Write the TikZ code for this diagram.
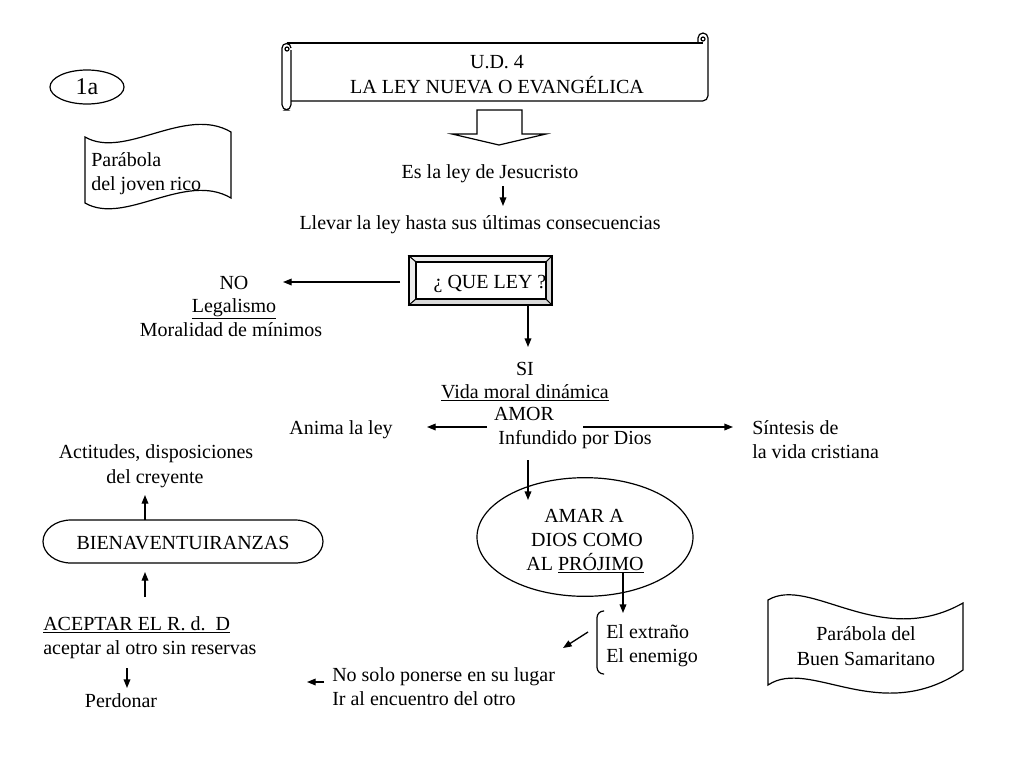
\documentclass[tikz,border=0pt]{standalone}
\usepackage{fontspec}
\setmainfont{Liberation Serif}
\usetikzlibrary{arrows.meta,shapes.geometric}
\begin{document}
\begin{tikzpicture}[x=0.75pt,y=-0.75pt,
  txt/.style={inner sep=0pt,anchor=base,font=\fontsize{15}{20}\selectfont},
  ltxt/.style={txt,anchor=base west},
  arr/.style={line width=1pt,-{Triangle[length=6.5pt,width=5pt]}},
  shp/.style={line width=0.9pt},
  bevA/.style={fill=gray!15,draw,line width=0.7pt},
  bevB/.style={fill=gray!30,draw,line width=0.7pt}]
\fill[white] (0,0) rectangle (1024,768);
\useasboundingbox (0,0) rectangle (1024,768);

% ---- title scroll
\draw[shp] (287,43) -- (703,43);
\draw[shp,rounded corners=4] (291,101) -- (708,101) -- (708,38);
\draw[shp,rounded corners=4] (291,50) -- (291,110) -- (282,110) -- (282,48);
\draw[shp] (282,48) arc[start angle=180,end angle=360,radius=4.5];
\draw[shp] (287,49) circle[radius=2];
\draw[shp] (708,38) arc[start angle=0,end angle=-180,radius=5] -- (698,43);
\draw[shp] (703,39) circle[radius=2];
\node[txt] (ud) at (497,68) {U.D. 4};
\node[txt] (ley) at (497,93) {LA LEY NUEVA O EVANGÉLICA};

% ---- 1a
\node[draw,shp,ellipse,inner sep=0pt,minimum width=55.5pt,minimum height=25.5pt,
      font=\fontsize{18}{22}\selectfont] (n1a) at (87,87) {1a};

% ---- joven rico wave
\draw[shp] (85,137) .. controls (125,160) and (185,105) .. (231,132) -- (231,198)
   .. controls (185,171) and (125,226) .. (85,203) -- cycle;
\node[ltxt] (jr1) at (91,166) {Parábola};
\node[ltxt] (jr2) at (91,190) {del joven rico};

% ---- block arrow
\draw[shp] (477,110) -- (522,110) -- (522,134) -- (546,134) -- (499,145)
   -- (452,134) -- (477,134) -- cycle;

\node[txt] (jesus) at (490,178) {Es la ley de Jesucristo};
\node[txt] (llevar) at (480,229) {Llevar la ley hasta sus últimas consecuencias};
\coordinate (a1s) at (503,186);
\coordinate (a1e) at (503,206);
\draw[arr] (a1s) -- (a1e);

% ---- QUE LEY bevel box
\path[bevA] (409,256) -- (552,256) -- (546,262) -- (416,262) -- cycle;
\path[bevA] (409,256) -- (416,262) -- (416,299) -- (409,305) -- cycle;
\path[bevB] (409,305) -- (416,299) -- (546,299) -- (552,305) -- cycle;
\path[bevB] (552,256) -- (552,305) -- (546,299) -- (546,262) -- cycle;
\draw[line width=0.9pt] (409,256) rectangle (552,305);
\draw[line width=0.9pt] (416,262) rectangle (546,299);
\node[txt] (q) at (490,288) {¿ QUE LEY ?};

\coordinate (a2s) at (400,282);
\coordinate (a2e) at (283,282);
\draw[arr] (a2s) -- (a2e);
\node[txt] (no) at (234,289) {NO};
\node[txt] (legal) at (234,312) {\underline{Legalismo}};
\node[txt] (moral) at (231,336) {Moralidad de mínimos};

\coordinate (a3s) at (528,305);
\coordinate (a3e) at (528,347);
\draw[arr] (a3s) -- (a3e);
\node[txt] (si) at (525,375) {SI};
\node[txt] (vida) at (525,398) {\underline{Vida moral dinámica}};
\node[txt] (amor) at (524,420) {AMOR};
\node[txt] (infund) at (575,444) {Infundido por Dios};

\node[txt] (anima) at (341,434) {Anima la ley};
\coordinate (a4s) at (487,427);
\coordinate (a4e) at (427,427);
\draw[arr] (a4s) -- (a4e);

\coordinate (a5s) at (583,427);
\coordinate (a5e) at (733,427);
\draw[arr] (a5s) -- (a5e);
\node[ltxt] (sint1) at (752,434) {Síntesis de};
\node[ltxt] (sint2) at (752,458) {la vida cristiana};

% ---- AMAR ellipse
\node[draw,shp,ellipse,minimum width=162pt,minimum height=89pt] (amar) at (585,537) {};
\node[txt] (am1) at (584,522) {AMAR A};
\node[txt] (am2) at (587,546) {DIOS COMO};
\node[txt] (am3) at (585,570) {AL \underline{PRÓJIMO}};
\coordinate (a6s) at (528,460);
\draw[arr] (a6s) -- (528,500);

\coordinate (a7s) at (623,572);
\coordinate (a7e) at (623,613);
\draw[arr] (a7s) -- (a7e);

\draw[shp,rounded corners=5] (604,611) -- (597,611) -- (597,674) -- (604,674);
\node[ltxt] (ext) at (606,638) {El extraño};
\node[ltxt] (ene) at (606,662) {El enemigo};

\coordinate (a8s) at (588,632);
\coordinate (a8e) at (563,648);
\draw[arr] (a8s) -- (a8e);

\node[ltxt] (nosolo) at (332,681) {No solo ponerse en su lugar};
\node[ltxt] (iral) at (332,705) {Ir al encuentro del otro};
\coordinate (a9s) at (324,682);
\coordinate (a9e) at (307,682);
\draw[arr] (a9s) -- (a9e);

% ---- left column
\node[txt] (act1) at (156,458) {Actitudes, disposiciones};
\node[txt] (act2) at (155,483) {del creyente};
\coordinate (a10s) at (145,520);
\coordinate (a10e) at (145,495);
\draw[arr] (a10s) -- (a10e);

\draw[shp] (71,520) -- (295,520) arc[start angle=-90,end angle=90,x radius=28,y radius=21.5]
   -- (71,563) arc[start angle=90,end angle=270,x radius=28,y radius=21.5] -- cycle;
\node[txt] (bien) at (183,549) {BIENAVENTUIRANZAS};

\coordinate (a11s) at (145,597);
\coordinate (a11e) at (145,572);
\draw[arr] (a11s) -- (a11e);

\node[ltxt] (acep) at (43,630) {\underline{ACEPTAR EL R. d.\ \ D}};
\node[ltxt] (acep2) at (43,654) {aceptar al otro sin reservas};
\coordinate (a12s) at (127,668);
\coordinate (a12e) at (127,688);
\draw[arr] (a12s) -- (a12e);
\node[txt] (perd) at (121,707) {Perdonar};

% ---- Buen Samaritano wave
\draw[shp] (768,600) .. controls (810,575) and (880,650) .. (963,603) -- (963,670)
   .. controls (880,727) and (810,657) .. (768,685) -- cycle;
\node[txt] (bs1) at (866,640) {Parábola del};
\node[txt] (bs2) at (866,665) {Buen Samaritano};
\end{tikzpicture}
\end{document}
